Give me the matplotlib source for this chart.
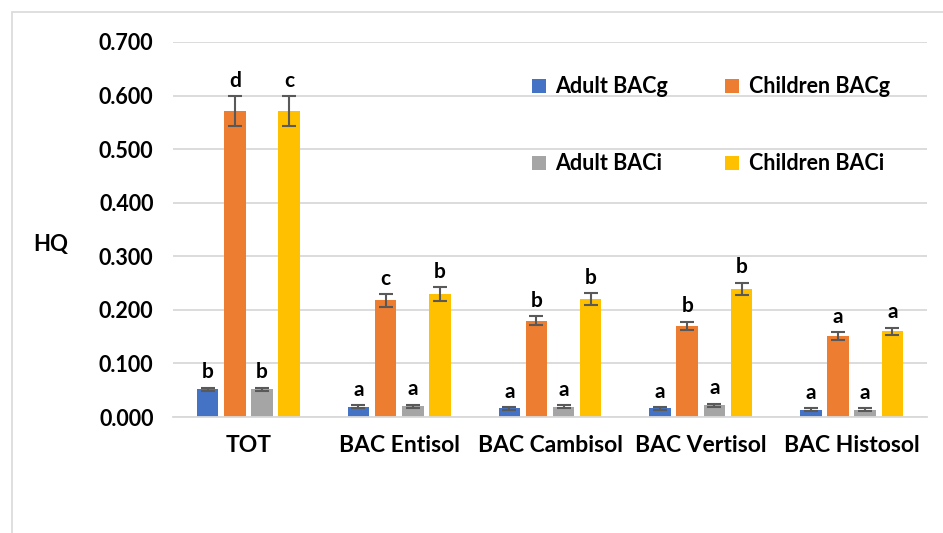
import matplotlib.pyplot as plt
from matplotlib.patches import Rectangle
import numpy as np

plt.rcParams['font.family'] = ['Lato', 'DejaVu Sans']
plt.rcParams['font.weight'] = 'bold'

categories = ['TOT', 'BAC Entisol', 'BAC Cambisol', 'BAC Vertisol', 'BAC Histosol']
series = ['Adult BACg', 'Children BACg', 'Adult BACi', 'Children BACi']
colors = ['#4472C4', '#ED7D31', '#A5A5A5', '#FFC000']

adult_bacg = [0.052, 0.019, 0.016, 0.016, 0.014]
children_bacg = [0.571, 0.218, 0.180, 0.170, 0.151]
adult_baci = [0.052, 0.020, 0.019, 0.022, 0.014]
children_baci = [0.571, 0.229, 0.220, 0.239, 0.160]

adult_bacg_err = [0.003, 0.003, 0.003, 0.003, 0.003]
children_bacg_err = [0.028, 0.012, 0.008, 0.008, 0.007]
adult_baci_err = [0.003, 0.003, 0.003, 0.003, 0.003]
children_baci_err = [0.028, 0.013, 0.011, 0.012, 0.007]

letters_adult_bacg = ['b', 'a', 'a', 'a', 'a']
letters_children_bacg = ['d', 'c', 'b', 'b', 'a']
letters_adult_baci = ['b', 'a', 'a', 'a', 'a']
letters_children_baci = ['c', 'b', 'b', 'b', 'a']

values = [adult_bacg, children_bacg, adult_baci, children_baci]
errors = [adult_bacg_err, children_bacg_err, adult_baci_err, children_baci_err]
letters = [letters_adult_bacg, letters_children_bacg, letters_adult_baci, letters_children_baci]

fig = plt.figure(figsize=(9.43, 5.33), dpi=100)
ax = fig.add_axes([173 / 943, 1 - 417 / 533, 754 / 943, 375 / 533])

x = np.arange(len(categories))
width = 0.143
step = 0.18
bars = []
for i in range(4):
    pos = x + (i - 1.5) * step
    b = ax.bar(pos, values[i], width, color=colors[i], label=series[i],
               yerr=errors[i], capsize=5,
               error_kw=dict(ecolor='#595959', elinewidth=1.5, capthick=1.5))
    bars.append(b)
    for xp, v, e, t in zip(pos, values[i], errors[i], letters[i]):
        ax.annotate(t, (xp, v + e), xytext=(0, 11), textcoords='offset points',
                    ha='center', va='center', fontsize=15, fontweight='bold')

ax.set_xlim(-0.5, len(categories) - 0.5)
ax.set_ylim(0, 0.7)
ax.set_yticks(np.arange(0, 0.71, 0.1))
ax.set_yticklabels(['%.3f' % v for v in np.arange(0, 0.71, 0.1)])
ax.set_xticks(x)
ax.set_xticklabels(categories)
ax.tick_params(axis='y', length=0, labelsize=15.5, pad=14)
ax.tick_params(axis='x', length=0, labelsize=16.5, pad=13)
ax.yaxis.grid(True, color='#d9d9d9', linewidth=1.3)
ax.set_axisbelow(True)
for s in ['top', 'right', 'left']:
    ax.spines[s].set_visible(False)
ax.spines['bottom'].set_color('#d9d9d9')
ax.spines['bottom'].set_linewidth(1.3)

fig.text(51 / 943, 1 - 245 / 533, 'HQ', fontsize=16, fontweight='bold', ha='center', va='center')

# legend filled column by column, so order it to read row by row
order = [0, 2, 1, 3]
ax.legend([bars[k] for k in order], [series[k] for k in order],
          ncol=2, loc='upper left', bbox_to_anchor=(0.45, 0.96), frameon=False,
          fontsize=15.5, handlelength=0.65, handleheight=0.65, handletextpad=0.45,
          labelspacing=2.6, columnspacing=2.65)

fig.patches.append(Rectangle((12 / 943, -0.1), 1.2, 1.1 - 12 / 533, transform=fig.transFigure,
                             fill=False, edgecolor='#d9d9d9', linewidth=1.2))

fig.savefig('out.png', dpi=100)
